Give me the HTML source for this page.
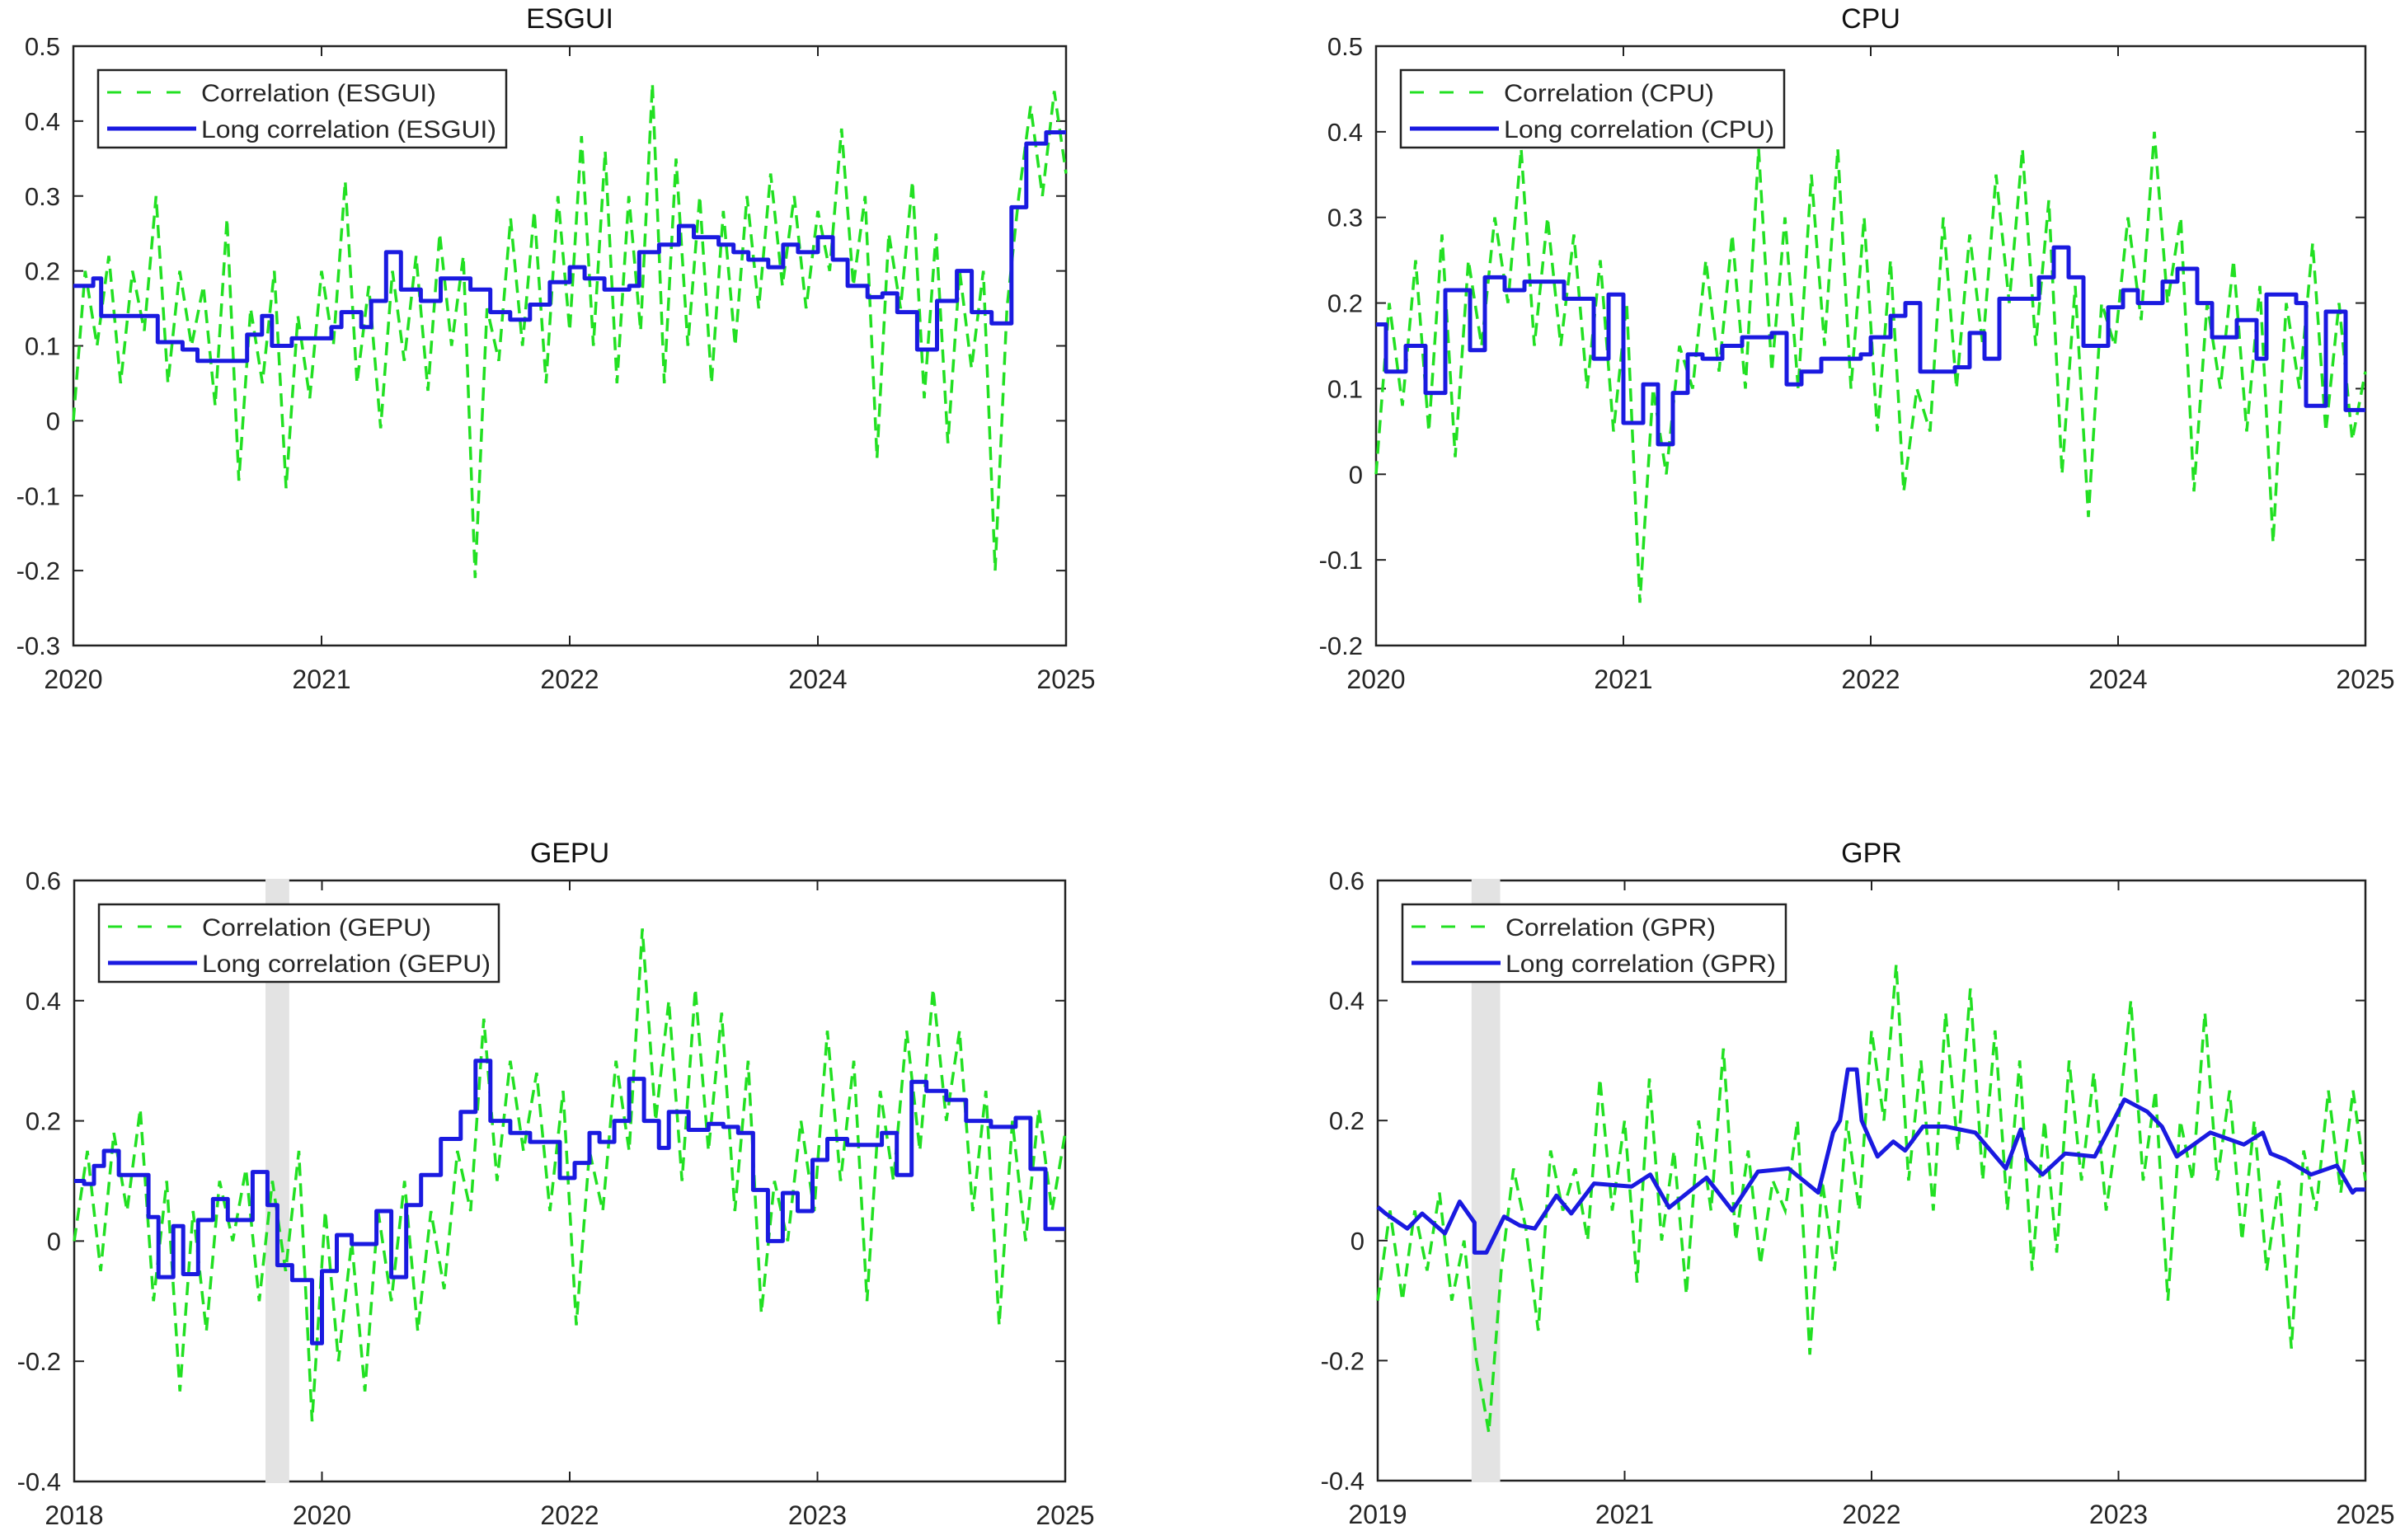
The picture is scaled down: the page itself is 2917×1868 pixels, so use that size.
<!DOCTYPE html>
<html><head><meta charset="utf-8"><style>
html,body{margin:0;padding:0;background:#fff;}
svg{display:block;font-family:"Liberation Sans",Arial,sans-serif;}
</style></head><body>
<svg id="fig" width="2917" height="1868" viewBox="0 0 2917 1868" xmlns="http://www.w3.org/2000/svg"></svg>
<script>
// ---------- DATA ----------
const esguiCorr = [0.0,0.2,0.1,0.22,0.05,0.2,0.12,0.3,0.05,0.2,0.1,0.18,0.02,0.27,-0.08,0.15,0.05,0.2,-0.09,0.14,0.03,0.2,0.1,0.32,0.05,0.18,-0.01,0.2,0.08,0.22,0.04,0.25,0.1,0.22,-0.21,0.15,0.08,0.27,0.1,0.28,0.05,0.3,0.12,0.38,0.1,0.36,0.05,0.3,0.12,0.45,0.05,0.35,0.1,0.3,0.05,0.28,0.1,0.3,0.15,0.33,0.18,0.3,0.15,0.28,0.2,0.39,0.18,0.3,-0.05,0.25,0.15,0.32,0.03,0.25,-0.03,0.2,0.07,0.2,-0.2,0.15,0.3,0.42,0.3,0.44,0.33];
const esguiLongT = [0,0.02,0.028,0.085,0.11,0.125,0.175,0.19,0.2,0.22,0.26,0.27,0.29,0.3,0.315,0.33,0.35,0.37,0.4,0.42,0.44,0.46,0.48,0.5,0.515,0.535,0.56,0.57,0.59,0.61,0.625,0.65,0.665,0.68,0.7,0.715,0.73,0.75,0.765,0.78,0.8,0.815,0.83,0.85,0.87,0.89,0.905,0.925,0.945,0.96,0.98];
const esguiLongV = [0.18,0.19,0.14,0.105,0.095,0.08,0.115,0.14,0.10,0.11,0.125,0.145,0.125,0.16,0.225,0.175,0.16,0.19,0.175,0.145,0.135,0.155,0.185,0.205,0.19,0.175,0.18,0.225,0.235,0.26,0.245,0.235,0.225,0.215,0.205,0.235,0.225,0.245,0.215,0.18,0.165,0.17,0.145,0.095,0.16,0.2,0.145,0.13,0.285,0.37,0.385];

const cpuCorr = [0.0,0.2,0.08,0.25,0.05,0.28,0.02,0.25,0.15,0.3,0.2,0.38,0.15,0.3,0.15,0.28,0.1,0.25,0.05,0.2,-0.15,0.1,0.0,0.15,0.1,0.25,0.12,0.28,0.1,0.38,0.12,0.3,0.1,0.35,0.15,0.38,0.1,0.3,0.05,0.25,-0.02,0.1,0.05,0.3,0.1,0.28,0.15,0.35,0.2,0.38,0.15,0.32,0.0,0.22,-0.05,0.2,0.15,0.3,0.18,0.4,0.2,0.3,-0.02,0.2,0.1,0.25,0.05,0.22,-0.08,0.2,0.1,0.27,0.05,0.2,0.04,0.12];
const cpuLongT = [0,0.01,0.03,0.05,0.07,0.095,0.11,0.13,0.15,0.19,0.22,0.235,0.25,0.27,0.285,0.3,0.315,0.33,0.35,0.37,0.4,0.415,0.43,0.45,0.49,0.5,0.52,0.535,0.55,0.585,0.6,0.615,0.63,0.67,0.685,0.7,0.715,0.74,0.755,0.77,0.795,0.81,0.83,0.845,0.87,0.89,0.9,0.93,0.94,0.96,0.98];
const cpuLongV = [0.175,0.12,0.15,0.095,0.215,0.145,0.23,0.215,0.225,0.205,0.135,0.21,0.06,0.105,0.035,0.095,0.14,0.135,0.15,0.16,0.165,0.105,0.12,0.135,0.14,0.16,0.185,0.2,0.12,0.125,0.165,0.135,0.205,0.23,0.265,0.23,0.15,0.195,0.215,0.2,0.225,0.24,0.2,0.16,0.18,0.135,0.21,0.2,0.08,0.19,0.075];

const gepuCorr = [0.0,0.15,-0.05,0.18,0.05,0.22,-0.1,0.1,-0.25,0.05,-0.15,0.1,0.0,0.12,-0.1,0.1,-0.05,0.15,-0.3,0.05,-0.2,0.0,-0.25,0.05,-0.1,0.1,-0.15,0.05,-0.08,0.15,0.05,0.37,0.1,0.3,0.15,0.28,0.05,0.25,-0.14,0.15,0.05,0.3,0.15,0.52,0.2,0.4,0.1,0.42,0.15,0.38,0.05,0.3,-0.12,0.1,0.0,0.2,0.05,0.35,0.1,0.3,-0.1,0.25,0.1,0.35,0.15,0.42,0.2,0.35,0.05,0.25,-0.14,0.2,0.0,0.22,0.05,0.18];
const gepuLongT = [0,0.01,0.02,0.03,0.045,0.075,0.085,0.1,0.11,0.125,0.14,0.155,0.18,0.195,0.205,0.22,0.24,0.25,0.265,0.28,0.305,0.32,0.335,0.35,0.37,0.39,0.405,0.42,0.44,0.46,0.49,0.505,0.52,0.53,0.545,0.56,0.575,0.59,0.6,0.62,0.64,0.655,0.67,0.685,0.7,0.715,0.73,0.745,0.76,0.78,0.8,0.815,0.83,0.845,0.86,0.88,0.9,0.925,0.95,0.965,0.98];
const gepuLongV = [0.1,0.095,0.125,0.15,0.11,0.04,-0.06,0.025,-0.055,0.035,0.07,0.035,0.115,0.06,-0.04,-0.065,-0.17,-0.05,0.01,-0.005,0.05,-0.06,0.06,0.11,0.17,0.215,0.3,0.2,0.18,0.165,0.105,0.13,0.18,0.165,0.2,0.27,0.2,0.155,0.215,0.185,0.195,0.19,0.18,0.085,0.0,0.08,0.05,0.135,0.17,0.16,0.16,0.18,0.11,0.265,0.25,0.235,0.2,0.19,0.205,0.12,0.02];

const gprCorr = [-0.1,0.05,-0.1,0.05,-0.05,0.08,-0.1,0.0,-0.2,-0.32,-0.05,0.12,0.02,-0.15,0.15,0.05,0.12,0.0,0.27,0.05,0.2,-0.07,0.27,0.0,0.15,-0.09,0.2,0.05,0.32,0.0,0.15,-0.04,0.1,0.05,0.2,-0.19,0.1,-0.05,0.2,0.05,0.35,0.2,0.46,0.1,0.3,0.05,0.38,0.15,0.42,0.1,0.35,0.05,0.3,-0.05,0.2,-0.02,0.3,0.1,0.28,0.05,0.2,0.4,0.1,0.25,-0.1,0.2,0.1,0.38,0.1,0.25,0.0,0.2,-0.05,0.1,-0.18,0.15,0.05,0.25,0.08,0.25,0.1];
const gprLongT = [0,0.008,0.03,0.045,0.068,0.083,0.098,0.098,0.110,0.128,0.144,0.159,0.181,0.196,0.219,0.257,0.276,0.295,0.333,0.359,0.385,0.416,0.446,0.461,0.468,0.476,0.485,0.49,0.506,0.522,0.534,0.552,0.575,0.605,0.636,0.651,0.658,0.673,0.696,0.726,0.756,0.779,0.794,0.809,0.843,0.877,0.896,0.904,0.919,0.945,0.971,0.987,0.99,1.0];
const gprLongV = [0.056,0.045,0.02,0.045,0.012,0.065,0.03,-0.02,-0.02,0.04,0.025,0.02,0.075,0.045,0.095,0.09,0.11,0.055,0.105,0.05,0.115,0.12,0.08,0.18,0.2,0.285,0.285,0.2,0.14,0.165,0.15,0.19,0.19,0.18,0.12,0.185,0.135,0.11,0.145,0.14,0.235,0.215,0.19,0.14,0.18,0.16,0.18,0.145,0.135,0.11,0.125,0.08,0.085,0.085];

const esguiTicks = ["2020","2021","2022","2024","2025"];
const cpuTicks = ["2020","2021","2022","2024","2025"];
const gepuTicks = ["2018","2020","2022","2023","2025"];
const gprTicks = ["2019","2021","2022","2023","2025"];

// ---------- DRAW ----------
const NS = "http://www.w3.org/2000/svg";
const svg = document.getElementById('fig');
function mk(tag, attrs, parent) {
  const e = document.createElementNS(NS, tag);
  for (const k in attrs) e.setAttribute(k, attrs[k]);
  (parent || svg).appendChild(e);
  return e;
}

function panel(cfg) {
  const g = mk('g', {});
  
  
  const L = cfg.x0, R = cfg.x1, T = cfg.y0, B = cfg.y1;
  const xs = f => L + f * (R - L);
  const ys = v => B - (v - cfg.ymin) / (cfg.ymax - cfg.ymin) * (B - T);

  if (cfg.band) {
    const band = mk('rect', {x: xs(cfg.band[0]), y: T - 2, width: xs(cfg.band[1]) - xs(cfg.band[0]), height: B - T + 4, fill: '#e3e3e3'}, g);
    
    
  }
  const box = mk('path', {d: `M${L},${T}H${R}V${B}H${L}Z`, fill: 'none', stroke: '#222', 'stroke-width': 2.5}, g);
  
  
  if (cfg.band) {
    mk('rect', {x: xs(cfg.band[0]), y: T - 2, width: xs(cfg.band[1]) - xs(cfg.band[0]), height: 4, fill: '#e3e3e3'}, g);
    mk('rect', {x: xs(cfg.band[0]), y: B - 2, width: xs(cfg.band[1]) - xs(cfg.band[0]), height: 4, fill: '#e3e3e3'}, g);
  }

  for (let v = cfg.ymin; v <= cfg.ymax + 1e-9; v += cfg.ystep) {
    const y = ys(v);
    mk('line', {x1: L, x2: L + 12, y1: y, y2: y, stroke: '#222', 'stroke-width': 2}, g);
    mk('line', {x1: R, x2: R - 12, y1: y, y2: y, stroke: '#222', 'stroke-width': 2}, g);
    const t = mk('text', {x: L - 16, y: y + 11, 'text-anchor': 'end', 'font-size': 31, fill: '#262626'}, g);
    const r = Math.round(v * 10) / 10;
    t.textContent = r === 0 ? '0' : String(r);
    
    
  }
  cfg.ticks.forEach((lab, i) => {
    const f = i / (cfg.ticks.length - 1);
    const x = xs(f);
    mk('line', {x1: x, x2: x, y1: B, y2: B - 12, stroke: '#222', 'stroke-width': 2}, g);
    mk('line', {x1: x, x2: x, y1: T, y2: T + 12, stroke: '#222', 'stroke-width': 2}, g);
    const t = mk('text', {x: x, y: B + 52, 'text-anchor': 'middle', 'font-size': 32, fill: '#262626'}, g);
    t.textContent = lab;
    
    
  });
  const tt = mk('text', {x: (L + R) / 2, y: T - 22, 'text-anchor': 'middle', 'font-size': 34, fill: '#111'}, g);
  tt.textContent = cfg.title;
  
  

  const n = cfg.corr.length;
  const gd = cfg.corr.map((v, i) => (i ? 'L' : 'M') + xs(i / (n - 1)).toFixed(1) + ',' + ys(v).toFixed(1)).join('');
  const gp = mk('path', {d: gd, fill: 'none', stroke: '#22e022', 'stroke-width': 3.5, 'stroke-dasharray': '16 9'}, g);
  
  

  let bd = '';
  if (cfg.step) {
    cfg.lt.forEach((t, i) => {
      const x = xs(t), y = ys(cfg.lv[i]);
      bd += (i ? 'H' + x.toFixed(1) + 'V' + y.toFixed(1) : 'M' + x.toFixed(1) + ',' + y.toFixed(1));
    });
    bd += 'H' + R;
  } else {
    bd = cfg.lt.map((t, i) => (i ? 'L' : 'M') + xs(t).toFixed(1) + ',' + ys(cfg.lv[i]).toFixed(1)).join('');
  }
  const bp = mk('path', {d: bd, fill: 'none', stroke: '#1a1ae0', 'stroke-width': 5, 'stroke-linejoin': 'round'}, g);
  
  

  const lx = L + 30, ly = T + 29, lw = cfg.lw, lh = 94;
  const lg = mk('g', {}, g);
  
  
  mk('rect', {x: lx, y: ly, width: lw, height: lh, fill: '#fff', stroke: '#222', 'stroke-width': 2.5}, lg);
  mk('line', {x1: lx + 11, x2: lx + 119, y1: ly + 27, y2: ly + 27, stroke: '#22e022', 'stroke-width': 3, 'stroke-dasharray': '17 19'}, lg);
  mk('line', {x1: lx + 11, x2: lx + 119, y1: ly + 71, y2: ly + 71, stroke: '#1a1ae0', 'stroke-width': 5}, lg);
  const t1 = mk('text', {x: lx + 125, y: ly + 38, 'font-size': 30, fill: '#262626', textLength: cfg.t1w, lengthAdjust: 'spacingAndGlyphs'}, lg);
  t1.textContent = 'Correlation (' + cfg.title + ')';
  
  
  const t2 = mk('text', {x: lx + 125, y: ly + 82, 'font-size': 30, fill: '#262626', textLength: cfg.t2w, lengthAdjust: 'spacingAndGlyphs'}, lg);
  t2.textContent = 'Long correlation (' + cfg.title + ')';
  
  
}

panel({id: 'esgui', title: 'ESGUI', x0: 89, x1: 1293, y0: 56, y1: 783, ymin: -0.3, ymax: 0.5, ystep: 0.1, ticks: esguiTicks, corr: esguiCorr, lt: esguiLongT, lv: esguiLongV, step: true, lw: 495, t1w: 285, t2w: 358});
panel({id: 'cpu', title: 'CPU', x0: 1669, x1: 2869, y0: 56, y1: 783, ymin: -0.2, ymax: 0.5, ystep: 0.1, ticks: cpuTicks, corr: cpuCorr, lt: cpuLongT, lv: cpuLongV, step: true, lw: 465, t1w: 255, t2w: 328});
panel({id: 'gepu', title: 'GEPU', x0: 90, x1: 1292, y0: 1068, y1: 1797, ymin: -0.4, ymax: 0.6, ystep: 0.2, ticks: gepuTicks, corr: gepuCorr, lt: gepuLongT, lv: gepuLongV, step: true, band: [0.193, 0.217], lw: 485, t1w: 278, t2w: 350});
panel({id: 'gpr', title: 'GPR', x0: 1671, x1: 2869, y0: 1068, y1: 1796, ymin: -0.4, ymax: 0.6, ystep: 0.2, ticks: gprTicks, corr: gprCorr, lt: gprLongT, lv: gprLongV, step: false, band: [0.095, 0.124], lw: 465, t1w: 255, t2w: 328});
</script>
</body></html>
